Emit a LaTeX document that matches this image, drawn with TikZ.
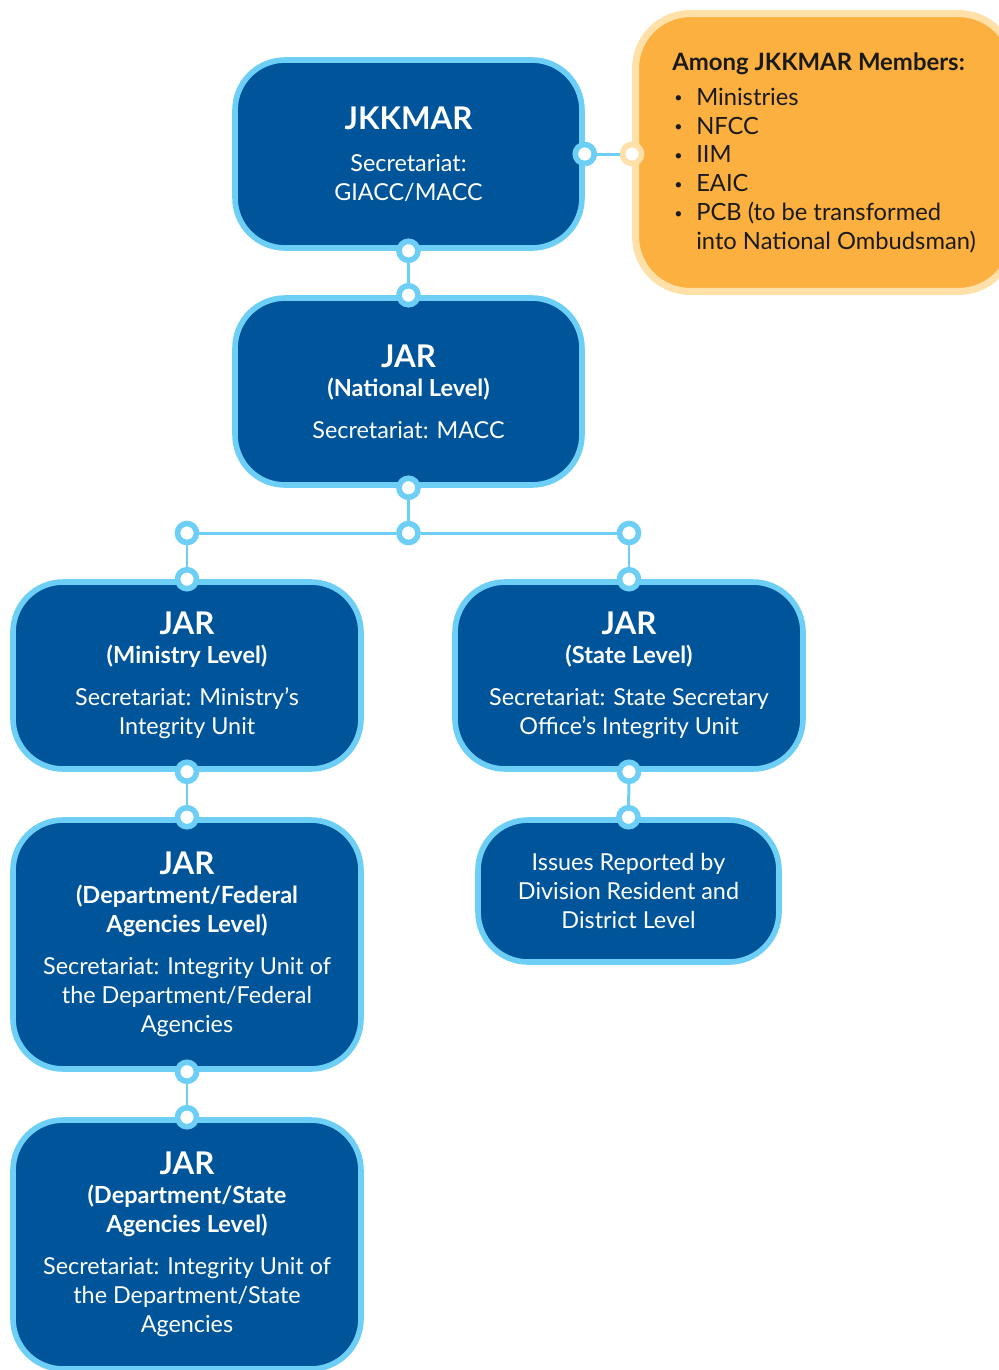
\documentclass[tikz,border=0pt]{standalone}
\usepackage{fontspec}
\setmainfont{Lato}
\definecolor{navy}{HTML}{00559A}
\definecolor{sky}{HTML}{6DCFF6}
\definecolor{amber}{HTML}{FBB040}
\definecolor{amberlight}{HTML}{FEE0A8}
\definecolor{ink}{HTML}{1A1A1A}
\newcommand\boxtitle[1]{{\fontsize{17.8}{16.4}\selectfont\bfseries #1}}
\newcommand\boxsub[1]{{\fontsize{13.4}{16.4}\selectfont\bfseries #1}}
\newcommand\bul{\hspace*{1.2pt}\makebox[12.4pt][l]{\raisebox{0.2ex}{\scalebox{0.6}{•}}}}
\begin{document}
\begin{tikzpicture}[x=0.02cm,y=-0.02cm,
  box/.style={draw=sky, fill=navy, line width=3.2pt, rounded corners=1cm,
    text=white, align=center, inner sep=0pt, font=\fontsize{13.3}{16.4}\selectfont},
  dot/.style={circle, draw=sky, fill=white, line width=3.2pt,
    minimum size=0.38cm, inner sep=0pt},
  odot/.style={dot, draw=amberlight},
  link/.style={draw=sky, line width=1.7pt}]
\useasboundingbox (0,0) rectangle (999,1370);
\clip (0,0) rectangle (999,1370);

% boxes
\node[box, minimum width=6.94cm, minimum height=3.76cm] (jk) at (408.5,154)
  {\boxtitle{JKKMAR}\\[7.6pt]Secretariat:\\GIACC/MACC};
\node[box, minimum width=6.94cm, minimum height=3.74cm] (nat) at (408.5,391.5)
  {\boxtitle{JAR}\\\boxsub{(National Level)}\\[7.6pt]Secretariat: MACC};
\node[box, minimum width=6.96cm, minimum height=3.74cm] (min) at (187,675.5)
  {\boxtitle{JAR}\\\boxsub{(Ministry Level)}\\[7.6pt]Secretariat: Ministry’s\\Integrity Unit};
\node[box, minimum width=6.96cm, minimum height=3.74cm] (st) at (629,675.5)
  {\boxtitle{JAR}\\\boxsub{(State Level)}\\[7.6pt]Secretariat: State Secretary\\Office’s Integrity Unit};
\node[box, minimum width=6.96cm, minimum height=4.98cm] (fed) at (187,944.5)
  {\boxtitle{JAR}\\\boxsub{(Department/Federal}\\\boxsub{Agencies Level)}\\[7.6pt]Secretariat: Integrity Unit of\\the Department/Federal\\Agencies};
\node[box, minimum width=6.02cm, minimum height=2.84cm] (iss) at (628.5,891)
  {Issues Reported by\\Division Resident and\\District Level};
\node[box, minimum width=6.96cm, minimum height=4.98cm] (dst) at (187,1244.5)
  {\boxtitle{JAR}\\\boxsub{(Department/State}\\\boxsub{Agencies Level)}\\[7.6pt]Secretariat: Integrity Unit of\\the Department/State\\Agencies};

\node[draw=amberlight, fill=amber, line width=4pt, rounded corners=1.1cm,
  minimum width=7.56cm, minimum height=5.56cm, inner sep=0pt] (mem) at (824.5,152.5) {};
\node[anchor=west, align=left, inner sep=0pt, text=ink,
  font=\fontsize{13.5}{16.4}\selectfont] (memtext) at (672,153)
  {{\fontsize{13.6}{16.4}\selectfont\bfseries Among JKKMAR Members:}\\[3.2pt]
   \bul Ministries\\\bul NFCC\\\bul IIM\\\bul EAIC\\
   \bul PCB (to be transformed\\\hspace*{13.6pt}into National Ombudsman)};

% dots
\node[dot] (jkE) at (jk.east) {};
\node[odot] (memW) at (mem.west |- jk.east) {};
\node[dot] (jkS) at (jk.south) {};
\node[dot] (natN) at (nat.north) {};
\node[dot] (natS) at (nat.south) {};
\node[dot] (hl) at (187,533) {};
\node[dot] (hm) at (408.5,533) {};
\node[dot] (hr) at (629,533) {};
\node[dot] (minN) at (min.north) {};
\node[dot] (stN) at (st.north) {};
\node[dot] (minS) at (min.south) {};
\node[dot] (fedN) at (fed.north) {};
\node[dot] (stS) at (st.south) {};
\node[dot] (issN) at (iss.north) {};
\node[dot] (fedS) at (fed.south) {};
\node[dot] (dstN) at (dst.north) {};

% links
\draw[link] (jkE) -- (memW);
\draw[link] (jkS) -- (natN);
\draw[link] (natS) -- (hm);
\draw[link] (hl) -- (hm);
\draw[link] (hm) -- (hr);
\draw[link] (hl) -- (minN);
\draw[link] (hr) -- (stN);
\draw[link] (minS) -- (fedN);
\draw[link] (stS) -- (issN);
\draw[link] (fedS) -- (dstN);
\end{tikzpicture}
\end{document}
